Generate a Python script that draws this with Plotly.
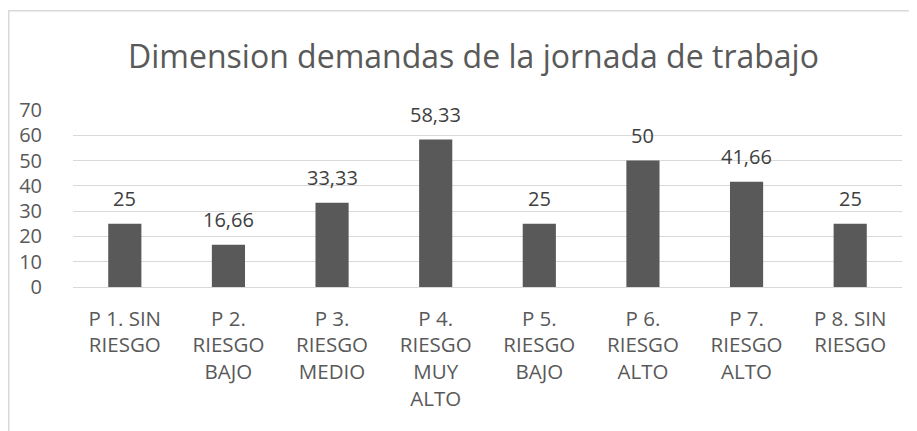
import plotly.graph_objects as go

categories = ["P 1. SIN<br>RIESGO", "P 2.<br>RIESGO<br>BAJO", "P 3.<br>RIESGO<br>MEDIO",
              "P 4.<br>RIESGO<br>MUY<br>ALTO", "P 5.<br>RIESGO<br>BAJO", "P 6.<br>RIESGO<br>ALTO",
              "P 7.<br>RIESGO<br>ALTO", "P 8. SIN<br>RIESGO"]
values = [25, 16.66, 33.33, 58.33, 25, 50, 41.66, 25]
labels = [f"{v:g}".replace(".", ",") for v in values]
y_ticks = [0, 10, 20, 30, 40, 50, 60, 70]

FONT = "Open Sans"
GREY = "#595959"

fig = go.Figure(go.Bar(x=categories, y=values, marker_color=GREY, marker_line_width=0,
                       hoverinfo="skip"))

for c, v, t in zip(categories, values, labels):
    fig.add_annotation(x=c, y=v, text=t, showarrow=False, yanchor="bottom", yshift=10,
                       font=dict(family=FONT, size=20, color="#404040"))

# page has 8px body margin, so figure is drawn offset by (8, 8)
W, H = 909, 423
L, R, T, B = 65, 15, 102, 144
pw, ph = W - L - R, H - T - B
fig.add_shape(type="rect", xref="paper", yref="paper",
              x0=(0.75 - L) / pw, x1=(W + 20 - L) / pw,
              y0=-(B + 20) / ph, y1=1 + (T - 2.75) / ph,
              line=dict(color="#d9d9d9", width=1.5), fillcolor="rgba(0,0,0,0)", layer="below")

fig.update_layout(
    width=W, height=H,
    margin=dict(l=L, r=R, t=T, b=B),
    paper_bgcolor="white", plot_bgcolor="white",
    bargap=0.68,
    showlegend=False,
    title=dict(text="Dimension demandas de la jornada de trabajo", x=465.5 / W, xanchor="center",
               y=1 - 49 / H, yanchor="middle",
               font=dict(family=FONT, size=32, color=GREY)),
    font=dict(family=FONT, size=20, color=GREY),
    xaxis=dict(showgrid=False, showline=True, linecolor="#d9d9d9", linewidth=1,
               ticks="", tickfont=dict(family=FONT, size=20.5, color=GREY), tickangle=0,
               ticklabelstandoff=13),
    yaxis=dict(range=[0, 70], tickvals=y_ticks, showgrid=True, gridcolor="#d9d9d9",
               gridwidth=1, zeroline=False, showline=False, ticks="",
               tickfont=dict(family=FONT, size=20, color=GREY), ticklabelstandoff=30),
)

fig.write_html("out.html")
